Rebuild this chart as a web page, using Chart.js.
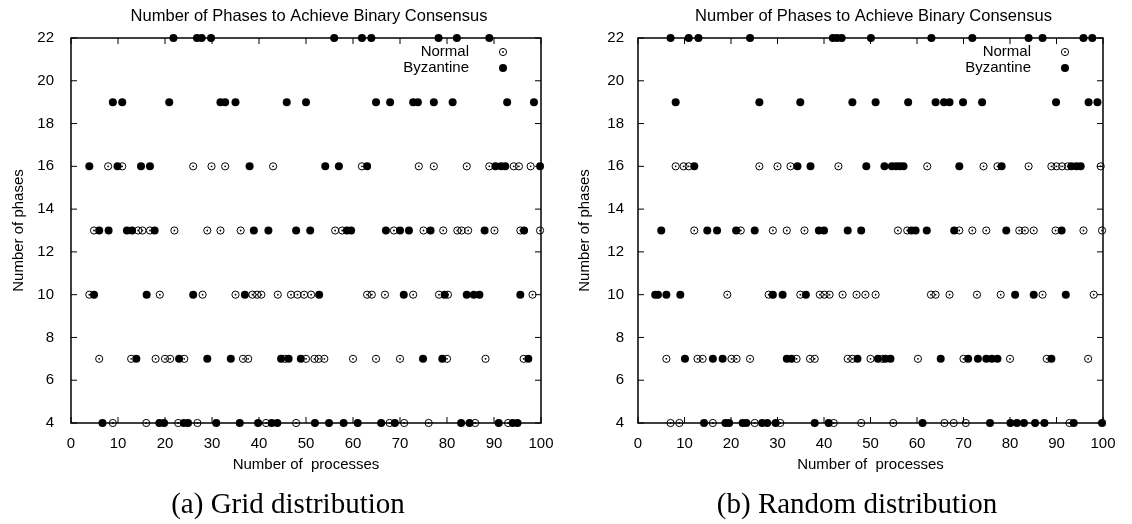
<!DOCTYPE html>
<html>
<head>
<meta charset="utf-8">
<script src="https://cdn.jsdelivr.net/npm/chart.js@4.4.1/dist/chart.umd.min.js"></script>
<style>
  body { margin: 0; background: #fff; }
  #page { position: relative; width: 1132px; height: 524px; overflow: hidden; background: #fff; }
  .panel { position: absolute; top: 0; width: 566px; height: 524px; }
  .caption { position: absolute; top: 488px; width: 400px; margin-left: -200px; text-align: center;
             font-family: "Liberation Serif", "Times New Roman", serif; font-size: 29px; line-height: 30px; color: #000; }
</style>
</head>
<body>
<div id="page">
  <div class="panel" style="left:0"><canvas id="grid" width="566" height="524"></canvas></div>
  <div class="panel" style="left:566px"><canvas id="random" width="566" height="524"></canvas></div>
  <div class="caption" style="left:288px">(a) Grid distribution</div>
  <div class="caption" style="left:857px">(b) Random distribution</div>
</div>
<script>
// phase levels (rows), each list below gives the x (number of processes) of the points on that row
const phaseLevels = [4, 7, 10, 13, 16, 19, 22];

// (a) grid distribution
const gridNormal = [
  [8.9, 16.0, 22.8, 26.9, 41.5, 47.9, 67.8, 70.9, 76.1, 86.0, 93.0],
  [6.0, 12.8, 18.0, 20.0, 21.1, 24.1, 36.6, 37.7, 45.5, 50.0, 51.8, 52.7, 53.9, 60.0, 64.9, 70.0, 80.0, 88.2, 96.3],
  [3.9, 18.9, 28.0, 35.0, 38.6, 39.6, 40.5, 44.0, 46.8, 48.2, 49.6, 51.1, 63.0, 64.0, 66.8, 72.8, 78.3, 80.2, 98.2],
  [4.9, 14.3, 15.2, 16.8, 22.0, 29.0, 31.8, 36.1, 56.2, 57.7, 68.7, 75.0, 79.2, 82.2, 83.1, 84.5, 90.1, 95.6, 99.8],
  [7.9, 10.9, 26.0, 29.9, 32.8, 43.0, 61.9, 74.0, 77.2, 84.2, 89.0, 94.2, 95.3, 97.8],
  [],
  []
];
const gridByz = [
  [6.7, 18.8, 19.8, 24.0, 24.9, 30.9, 35.9, 39.8, 42.7, 43.9, 51.9, 54.9, 58.0, 61.0, 66.0, 68.9, 83.0, 84.8, 91.0, 94.0, 95.0],
  [13.9, 23.0, 29.0, 34.0, 44.7, 46.3, 48.9, 74.9, 79.0, 97.3],
  [4.9, 16.1, 26.0, 37.0, 52.8, 70.8, 79.5, 84.2, 85.7, 86.9, 95.6],
  [6.0, 8.0, 11.9, 13.0, 17.8, 38.9, 42.0, 47.9, 50.9, 58.7, 59.6, 67.0, 70.0, 71.9, 76.5, 88.0, 96.4],
  [3.9, 9.9, 14.9, 16.8, 38.0, 54.1, 57.0, 63.0, 90.3, 91.5, 92.4, 99.8],
  [8.9, 10.9, 20.9, 31.8, 32.8, 35.0, 45.9, 50.0, 64.9, 67.9, 72.8, 73.8, 77.2, 81.2, 92.8, 98.5],
  [21.8, 26.8, 27.8, 29.8, 56.0, 61.9, 63.9, 78.2, 82.1, 89.0]
];

// (b) random distribution
const randNormal = [
  [7.0, 8.9, 16.1, 25.1, 30.6, 42.1, 48.0, 54.9, 65.9, 67.9, 70.5, 92.8],
  [6.1, 12.8, 13.9, 20.1, 21.2, 24.1, 34.1, 37.0, 38.0, 45.1, 46.1, 50.0, 52.6, 60.2, 70.0, 80.0, 87.9, 96.8],
  [19.2, 28.1, 34.9, 39.1, 40.1, 41.2, 44.0, 47.0, 48.9, 51.1, 63.0, 64.0, 67.0, 72.9, 78.0, 87.0, 98.0],
  [12.1, 22.1, 29.0, 32.0, 35.8, 55.9, 57.9, 69.1, 71.9, 74.9, 82.0, 83.2, 85.1, 89.8, 95.8, 99.8],
  [8.1, 9.8, 10.9, 26.1, 30.0, 32.8, 43.1, 62.2, 74.3, 77.3, 84.0, 88.9, 90.0, 91.2, 92.4, 99.5],
  [],
  []
];
const randByz = [
  [14.2, 18.8, 19.6, 22.5, 23.3, 26.7, 27.8, 29.6, 38.0, 41.0, 61.2, 75.7, 80.1, 81.5, 83.0, 85.4, 87.4, 93.7, 99.8],
  [10.1, 16.1, 18.2, 32.0, 33.0, 47.2, 51.6, 53.2, 54.3, 65.1, 71.0, 73.1, 74.9, 76.1, 77.3, 88.9],
  [3.7, 4.3, 6.1, 9.1, 29.0, 31.1, 36.1, 81.1, 85.1, 92.0],
  [5.0, 14.9, 17.0, 21.1, 25.1, 38.9, 40.0, 45.1, 48.0, 58.8, 59.7, 62.1, 68.0, 79.2, 91.1],
  [12.1, 34.3, 37.1, 49.1, 53.0, 54.6, 55.5, 56.3, 57.1, 69.1, 78.2, 93.2, 94.3, 95.2],
  [8.1, 26.1, 34.9, 46.1, 51.1, 58.1, 64.0, 65.8, 67.0, 69.9, 74.0, 89.9, 96.9, 98.8],
  [7.0, 10.9, 13.0, 24.1, 41.9, 42.8, 43.8, 50.1, 63.1, 71.9, 84.0, 87.0, 95.8, 97.7]
];

const titleText = 'Number of Phases to Achieve Binary Consensus';
const xTitle = 'Number of  processes';
const yTitle = 'Number of phases';
const seriesNames = ['Normal', 'Byzantine'];
const FONT = '"Liberation Sans", Arial, Helvetica, sans-serif';

function toPoints(rows) {
  return rows.flatMap((xs, i) => xs.map(x => ({ x: x, y: phaseLevels[i] })));
}

const framePlugin = {
  id: 'frame',
  beforeDatasetsDraw(chart) {
    const { ctx, chartArea: a, scales: { x, y } } = chart;
    ctx.save();
    ctx.strokeStyle = '#000';
    ctx.lineWidth = 1;
    ctx.beginPath();
    x.ticks.forEach(t => {
      const px = x.getPixelForValue(t.value);
      ctx.moveTo(px, a.bottom); ctx.lineTo(px, a.bottom - 6);
      ctx.moveTo(px, a.top); ctx.lineTo(px, a.top + 6);
    });
    y.ticks.forEach(t => {
      const py = y.getPixelForValue(t.value);
      ctx.moveTo(a.left, py); ctx.lineTo(a.left + 6, py);
      ctx.moveTo(a.right, py); ctx.lineTo(a.right - 6, py);
    });
    ctx.stroke();
    ctx.lineWidth = 1.5;
    ctx.strokeRect(a.left, a.top, a.right - a.left, a.bottom - a.top);
    ctx.restore();
  },
  afterDraw(chart) {
    const { ctx, chartArea: a } = chart;
    ctx.save();
    ctx.fillStyle = '#000';
    ctx.strokeStyle = '#000';
    ctx.textBaseline = 'middle';
    // title
    ctx.font = '16.5px ' + FONT;
    ctx.textAlign = 'center';
    ctx.fillText(titleText, (a.left + a.right) / 2 + 3, 16);
    // key, gnuplot style: text then symbol
    ctx.font = '15px ' + FONT;
    ctx.textAlign = 'right';
    const tx = a.right - 72, sx = a.right - 38;
    ctx.fillText(seriesNames[0], tx, 52);
    ctx.fillText(seriesNames[1], tx, 68);
    ctx.lineWidth = 1;
    ctx.beginPath(); ctx.arc(sx, 52, 3.6, 0, Math.PI * 2); ctx.stroke();
    ctx.beginPath(); ctx.arc(sx, 52, 0.9, 0, Math.PI * 2); ctx.fill();
    ctx.beginPath(); ctx.arc(sx, 68, 4, 0, Math.PI * 2); ctx.fill();
    ctx.restore();
  }
};

function makeChart(id, normalRows, byzRows, yPad, yWidth, rightPad) {
  const normalPts = toPoints(normalRows);
  new Chart(document.getElementById(id), {
    type: 'scatter',
    data: {
      datasets: [{
        label: seriesNames[1],
        data: toPoints(byzRows),
        pointStyle: 'circle',
        pointRadius: 4,
        pointBorderWidth: 0,
        backgroundColor: '#000',
        borderColor: '#000',
        clip: false
      }, {
        // centre dot of the "Normal" symbol
        label: seriesNames[0] + ' dot',
        data: normalPts,
        pointStyle: 'circle',
        pointRadius: 0.9,
        pointBorderWidth: 0,
        backgroundColor: '#000',
        clip: false
      }, {
        label: seriesNames[0],
        data: normalPts,
        pointStyle: 'circle',
        pointRadius: 3.6,
        pointBorderWidth: 1,
        borderColor: '#000',
        backgroundColor: 'rgba(0,0,0,0)',
        clip: false
      }]
    },
    options: {
      responsive: false,
      animation: false,
      events: [],
      layout: { padding: { left: 0, right: rightPad, top: 38, bottom: 46 } },
      plugins: { legend: { display: false }, title: { display: false }, tooltip: { enabled: false } },
      scales: {
        x: {
          type: 'linear', min: 0, max: 100,
          grid: { display: false }, border: { display: false },
          ticks: { stepSize: 10, color: '#000', padding: 4, maxRotation: 0, font: { family: FONT, size: 15 } },
          title: { display: true, text: xTitle, color: '#000', padding: { top: 0, bottom: 4 }, font: { family: FONT, size: 15 } },
          afterFit(s) { s.height = 55; }
        },
        y: {
          type: 'linear', min: 4, max: 22,
          grid: { display: false }, border: { display: false },
          ticks: { stepSize: 2, color: '#000', padding: yPad, font: { family: FONT, size: 15 } },
          title: { display: true, text: yTitle, color: '#000', padding: { top: 10, bottom: 0 }, font: { family: FONT, size: 15 } },
          afterFit(s) { s.width = yWidth; }
        }
      }
    },
    plugins: [framePlugin]
  });
}

makeChart('grid', gridNormal, gridByz, 9, 71, 25);
makeChart('random', randNormal, randByz, 6, 72, 29);
</script>
</body>
</html>
